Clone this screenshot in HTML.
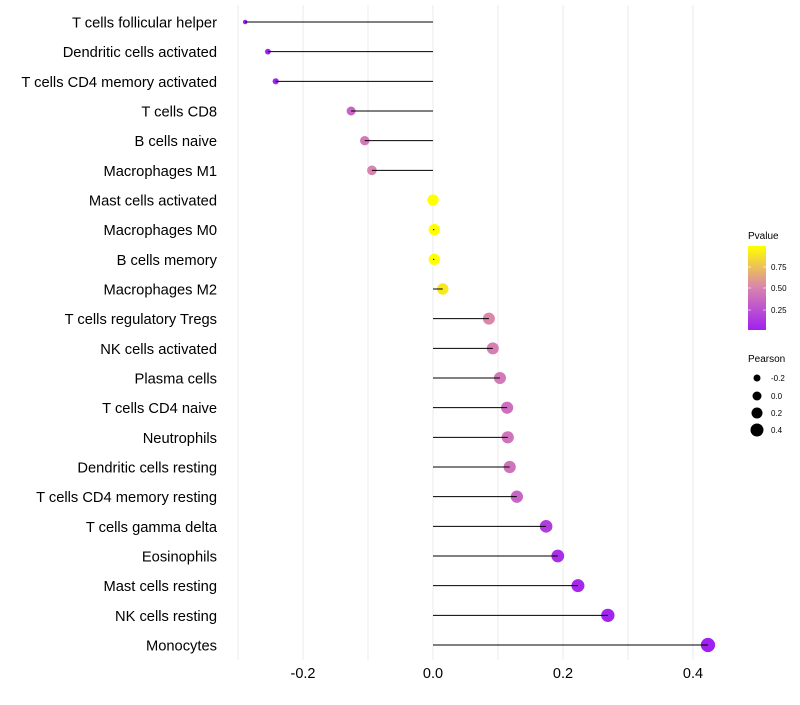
<!DOCTYPE html>
<html><head><meta charset="utf-8"><style>
body{margin:0;background:#fff;font-family:"Liberation Sans",sans-serif}
</style></head><body>
<svg id="chart" width="800" height="700" xmlns="http://www.w3.org/2000/svg">
<defs><linearGradient id="pg" x1="0" y1="1" x2="0" y2="0">
<stop offset="0" stop-color="#a020f0"/><stop offset="0.5" stop-color="#d883b0"/><stop offset="1" stop-color="#ffff00"/>
</linearGradient></defs>
<g id="grid"></g><g id="marks"></g><g id="labels"></g>
<g>
<text x="748" y="239" font-size="10" fill="#000">Pvalue</text>
<rect x="748" y="246" width="18" height="84" fill="url(#pg)"/>
<line x1="748" y1="267" x2="751" y2="267" stroke="#fff" stroke-opacity="0.6"/><line x1="763" y1="267" x2="766" y2="267" stroke="#fff" stroke-opacity="0.6"/>
<line x1="748" y1="288" x2="751" y2="288" stroke="#fff" stroke-opacity="0.6"/><line x1="763" y1="288" x2="766" y2="288" stroke="#fff" stroke-opacity="0.6"/>
<line x1="748" y1="310" x2="751" y2="310" stroke="#fff" stroke-opacity="0.6"/><line x1="763" y1="310" x2="766" y2="310" stroke="#fff" stroke-opacity="0.6"/>
<text x="771" y="270" font-size="8">0.75</text><text x="771" y="291" font-size="8">0.50</text><text x="771" y="313" font-size="8">0.25</text>
</g>
<g>
<text x="748" y="362" font-size="10">Pearson</text>
<circle cx="757" cy="378" r="3.5"/><text x="771" y="381" font-size="8">-0.2</text>
<circle cx="757" cy="396" r="4.5"/><text x="771" y="399" font-size="8">0.0</text>
<circle cx="757" cy="413" r="5.5"/><text x="771" y="416" font-size="8">0.2</text>
<circle cx="757" cy="430" r="6.5"/><text x="771" y="433" font-size="8">0.4</text>
</g>
</svg>
<script>
const categories=["T cells follicular helper","Dendritic cells activated","T cells CD4 memory activated","T cells CD8","B cells naive","Macrophages M1","Mast cells activated","Macrophages M0","B cells memory","Macrophages M2","T cells regulatory  Tregs ","NK cells activated","Plasma cells","T cells CD4 naive","Neutrophils","Dendritic cells resting","T cells CD4 memory resting","T cells gamma delta","Eosinophils","Mast cells resting","NK cells resting","Monocytes"];
const pearson=[-0.289,-0.254,-0.242,-0.126,-0.105,-0.094,0.0,0.002,0.002,0.015,0.086,0.092,0.103,0.114,0.115,0.118,0.129,0.174,0.192,0.223,0.269,0.423];
const pvalue=[0.01,0.02,0.03,0.35,0.45,0.5,1.0,0.99,0.99,0.9,0.52,0.48,0.45,0.4,0.42,0.42,0.35,0.15,0.08,0.05,0.03,0.01];
const xTicks=[-0.2,0.0,0.2,0.4];
const xTickLabels=["-0.2","0.0","0.2","0.4"];
const gridVals=[-0.3,-0.2,-0.1,0,0.1,0.2,0.3,0.4];
const NS="http://www.w3.org/2000/svg";
function x(v){return 433+v*650;}
function y(i){return 22+i*(623/(categories.length-1));}
function rad(v){const r2=v<0?32+93*v:32+45*v;return Math.sqrt(Math.max(3,r2));}
function mk(t,a,p){const e=document.createElementNS(NS,t);for(const k in a)e.setAttribute(k,a[k]);p.appendChild(e);return e;}
function lerp(a,b,t){return Math.round(a+(b-a)*t);}
function col(p){const s=[[160,32,240],[216,131,176],[255,255,0]];let t=Math.max(0,Math.min(1,(p-0.01)/0.98));let a,b,u;if(t<0.5){a=s[0];b=s[1];u=t*2}else{a=s[1];b=s[2];u=(t-0.5)*2}return `rgb(${lerp(a[0],b[0],u)},${lerp(a[1],b[1],u)},${lerp(a[2],b[2],u)})`;}
const G=document.getElementById('grid'),M=document.getElementById('marks'),L=document.getElementById('labels');
gridVals.forEach(v=>{const l=mk('line',{x1:x(v),x2:x(v),y1:5,y2:660,stroke:'#ebebeb','stroke-width':1},G);

});
xTicks.forEach((v,i)=>{const t=mk('text',{x:x(v),y:678,'font-size':14.5,'text-anchor':'middle',fill:'#000'},L);t.textContent=xTickLabels[i];

});
categories.forEach((c,i)=>{
const t=mk('text',{x:217,y:y(i)+5.5,'font-size':14.7,'text-anchor':'end',fill:'#000'},L);t.textContent=c;


const pt=mk('circle',{cx:x(pearson[i]),cy:y(i),r:rad(pearson[i]),fill:col(pvalue[i])},M);


const ln=mk('line',{x1:x(0),x2:x(pearson[i]),y1:y(i),y2:y(i),stroke:'#000','stroke-width':1},M);


});
</script>
</body></html>
